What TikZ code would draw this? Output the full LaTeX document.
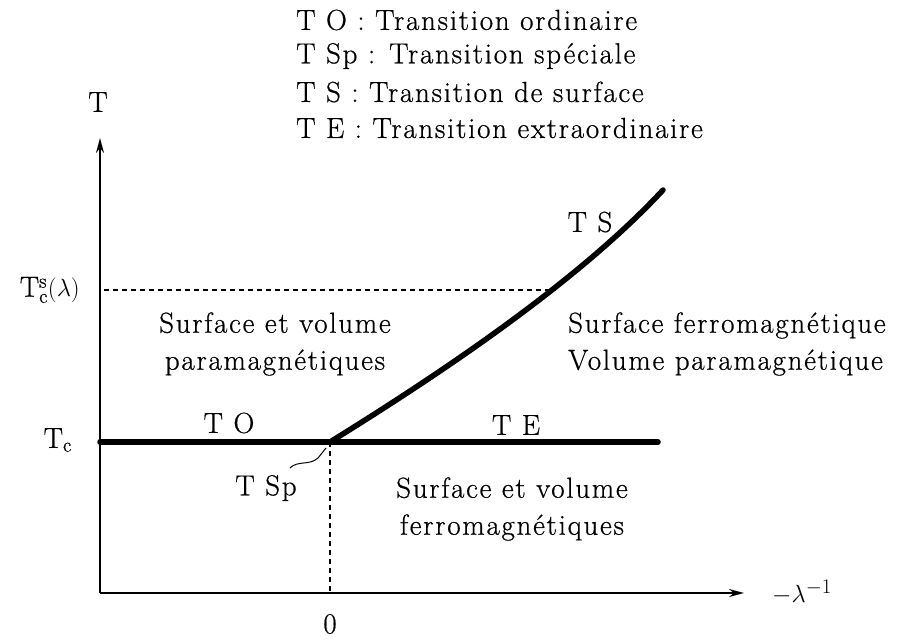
\documentclass[tikz,border=0pt]{standalone}
\usepackage{fontspec}
\setmainfont{Latin Modern Roman}[LetterSpace=6,FakeBold=0.6]
\usetikzlibrary{arrows.meta}
\begin{document}
\begin{tikzpicture}[x=1pt,y=-1pt,
  every node/.style={inner sep=0pt,font=\fontsize{29}{37}\selectfont},
  axis/.style={line width=1.6pt,-{Stealth[length=15pt,width=8pt]}},
  trans/.style={line width=5.5pt,line cap=round},
  guide/.style={line width=1.4pt,dash pattern=on 5pt off 4pt},
  lbl/.style={anchor=center},
  region/.style={align=center,anchor=center}]
\useasboundingbox (0,0) rectangle (904,640);
% coordinates
\coordinate (O) at (100,593);
\coordinate (Ytop) at (100,138);
\coordinate (Xend) at (744,593);
\coordinate (Tc0) at (100,442);
\coordinate (TcEnd) at (658,442);
\coordinate (Sp) at (330,442);
\coordinate (Zero) at (330,593);
\coordinate (Ts0) at (104,290);
\coordinate (TsEnd) at (556,290);
\coordinate (Cend) at (663,190);
% axes
\draw[axis] (O) -- (Ytop);
\draw[axis] (O) -- (Xend);
% guides
\draw[guide] (Ts0) -- (TsEnd);
\draw[guide] (Sp) -- (Zero);
% transitions
\draw[trans] (Tc0) -- (TcEnd);
\draw[trans] (Sp) .. controls (430,380) and (575,285) .. (Cend);
% axis labels
\node[lbl] (Tlab) at (98,102) {T};
\node[anchor=east] (Tcs) at (80,290) {$\mathrm{T}_{\mathrm{c}}^{\mathrm{s}}(\lambda)$};
\node[anchor=east] (Tc) at (72,440) {$\mathrm{T}_{\mathrm{c}}$};
\node[lbl] (zero) at (330,624) {0};
\node[anchor=west] (lam) at (772,592) {$-\lambda^{-1}$};
% transition labels
\node[lbl] (TO) at (229,423) {T O};
\node[lbl] (TE) at (516,425) {T E};
\node[lbl] (TS) at (590,222) {T S};
\node[lbl] (TSp) at (266,488) {T Sp};
\coordinate (SqA) at (290,468);
\coordinate (SqB) at (326,448);
\draw[line width=1pt] (SqA) .. controls (298,460) and (309,466) .. (318,458) -- (SqB);
% regions
\node[region] (R1) at (275,344) {Surface et volume\\paramagnétiques};
\node[anchor=west,align=left] (R2) at (568,344) {Surface ferromagnétique\\Volume paramagnétique};
\node[region] (R3) at (512,509) {Surface et volume\\ferromagnétiques};
% legend
\node[anchor=west] (L1) at (296,20) {T O : Transition ordinaire};
\node[anchor=west] (L2) at (296,56) {T Sp : Transition spéciale};
\node[anchor=west] (L3) at (296,92) {T S : Transition de surface};
\node[anchor=west] (L4) at (296,128) {T E : Transition extraordinaire};
\end{tikzpicture}
\end{document}
